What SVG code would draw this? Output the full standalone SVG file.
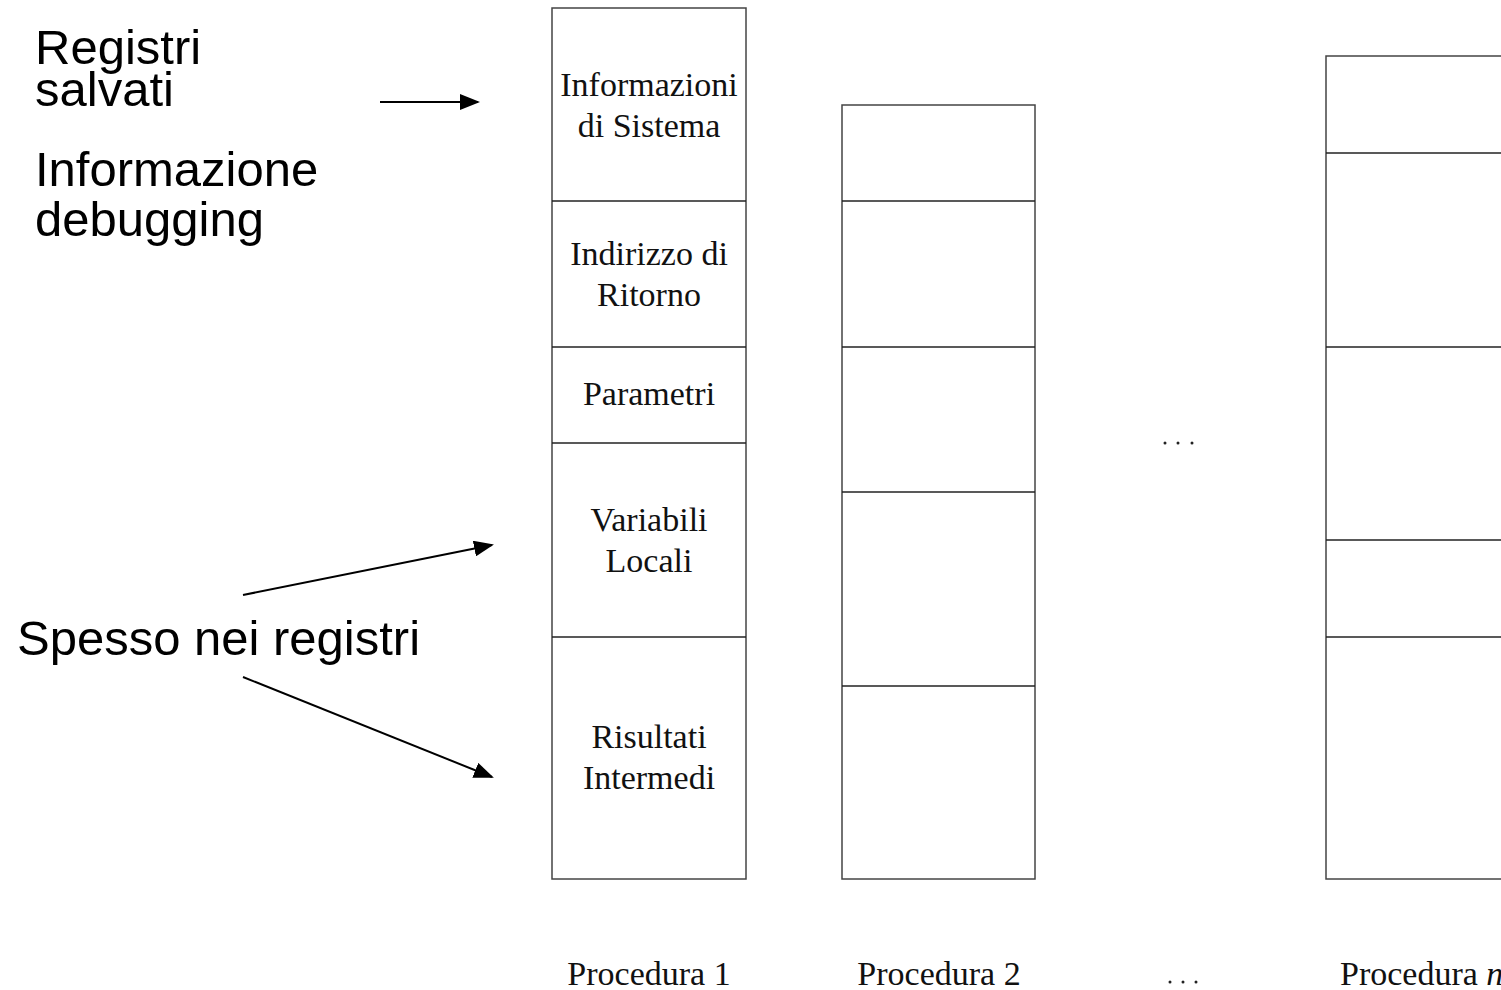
<svg xmlns="http://www.w3.org/2000/svg" width="1501" height="990" viewBox="0 0 1501 990">
<style>
.box{fill:#fff;stroke:#444;stroke-width:1.5}
.div{stroke:#222;stroke-width:1.3}
.cm{font-family:"Liberation Serif","Times New Roman",serif;font-size:34px;fill:#111;text-anchor:middle}
.sans{font-family:"Liberation Sans",Arial,sans-serif;font-size:49px;fill:#000}
.arr{stroke:#000;stroke-width:2;fill:none;marker-end:url(#ah)}
</style>
<defs>
<marker id="ah" markerWidth="10" markerHeight="8" refX="9" refY="4" orient="auto" markerUnits="strokeWidth">
<path d="M0,0 L10,4 L0,8 z" fill="#000"/>
</marker>
</defs>
<rect width="1501" height="990" fill="#fff"/>
<g id="proc1">
<rect class="box" x="552" y="8" width="194" height="871"/>
<line class="div" x1="552" y1="201" x2="746" y2="201"/>
<line class="div" x1="552" y1="347" x2="746" y2="347"/>
<line class="div" x1="552" y1="443" x2="746" y2="443"/>
<line class="div" x1="552" y1="637" x2="746" y2="637"/>
<text class="cm" x="649" y="96">Informazioni</text>
<text class="cm" x="649" y="137">di Sistema</text>
<text class="cm" x="649" y="265">Indirizzo di</text>
<text class="cm" x="649" y="306">Ritorno</text>
<text class="cm" x="649" y="405">Parametri</text>
<text class="cm" x="649" y="531">Variabili</text>
<text class="cm" x="649" y="572">Locali</text>
<text class="cm" x="649" y="748">Risultati</text>
<text class="cm" x="649" y="789">Intermedi</text>
<text class="cm" x="649" y="985">Procedura 1</text>
</g>
<g id="proc2">
<rect class="box" x="842" y="105" width="193" height="774"/>
<line class="div" x1="842" y1="201" x2="1035" y2="201"/>
<line class="div" x1="842" y1="347" x2="1035" y2="347"/>
<line class="div" x1="842" y1="492" x2="1035" y2="492"/>
<line class="div" x1="842" y1="686" x2="1035" y2="686"/>
<text class="cm" x="939" y="985">Procedura 2</text>
</g>
<g id="dots">
<circle cx="1165" cy="443" r="1.5" fill="#222"/>
<circle cx="1178" cy="443" r="1.5" fill="#222"/>
<circle cx="1192" cy="443" r="1.5" fill="#222"/>
<circle cx="1170" cy="982" r="1.5" fill="#222"/>
<circle cx="1183" cy="982" r="1.5" fill="#222"/>
<circle cx="1196" cy="982" r="1.5" fill="#222"/>
</g>
<g id="procn">
<rect class="box" x="1326" y="56" width="200" height="823"/>
<line class="div" x1="1326" y1="153" x2="1501" y2="153"/>
<line class="div" x1="1326" y1="347" x2="1501" y2="347"/>
<line class="div" x1="1326" y1="540" x2="1501" y2="540"/>
<line class="div" x1="1326" y1="637" x2="1501" y2="637"/>
<text class="cm" x="1340" y="985" style="text-anchor:start">Procedura <tspan font-style="italic">n</tspan></text>
</g>
<g id="labels">
<text class="sans" x="35" y="64">Registri</text>
<text class="sans" x="35" y="106">salvati</text>
<text class="sans" x="35" y="186">Informazione</text>
<text class="sans" x="35" y="236">debugging</text>
<text class="sans" x="17" y="655">Spesso nei registri</text>
</g>
<g id="connectors">
<line class="arr" x1="380" y1="102" x2="478" y2="102"/>
<line class="arr" x1="243" y1="595" x2="492" y2="545"/>
<line class="arr" x1="243" y1="677" x2="492" y2="777"/>
</g>
</svg>
